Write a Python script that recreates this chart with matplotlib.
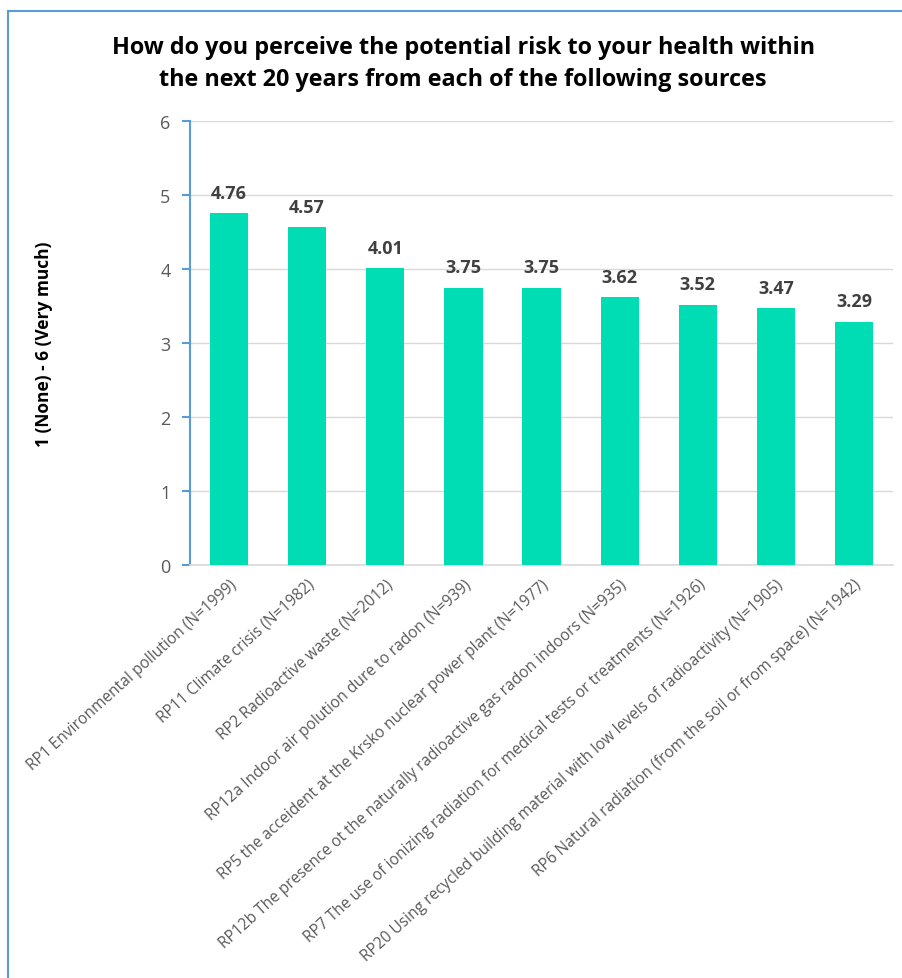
import matplotlib.pyplot as plt
from matplotlib.patches import Rectangle

categories = [
    "RP1 Environmental pollution (N=1999)",
    "RP11 Climate crisis (N=1982)",
    "RP2 Radioactive waste (N=2012)",
    "RP12a Indoor air polution dure to radon (N=939)",
    "RP5 the acceident at the Krsko nuclear power plant (N=1977)",
    "RP12b The presence ot the naturally radioactive gas radon indoors (N=935)",
    "RP7 The use of ionizing radiation for medical tests or treatments (N=1926)",
    "RP20 Using recycled building material with low levels of radioactivity (N=1905)",
    "RP6 Natural radiation (from the soil or from space) (N=1942)",
]
values = [4.76, 4.57, 4.01, 3.75, 3.75, 3.62, 3.52, 3.47, 3.29]
yticks = [0, 1, 2, 3, 4, 5, 6]

plt.rcParams['font.family'] = ['Open Sans', 'DejaVu Sans']

fig = plt.figure(figsize=(9.03, 9.79), dpi=100)
ax = fig.add_axes([0.2104, 0.4218, 0.7786, 0.4536])

x = range(len(values))
bars = ax.bar(x, values, width=0.49, color='#00DCB4', zorder=3)

for b, v in zip(bars, values):
    ax.annotate(f"{v:.2f}", (b.get_x() + b.get_width() / 2, v),
                xytext=(0, 8), textcoords='offset points',
                ha='center', va='bottom', fontsize=13, fontweight='bold',
                color='#404040')

ax.set_xlim(-0.5, len(values) - 0.5)
ax.set_ylim(0, 6)
ax.set_yticks(yticks)
ax.set_yticklabels([str(t) for t in yticks], fontsize=13, color='#595959')
ax.tick_params(axis='y', length=6, color='#5B9BD5', width=1.5, pad=8)
ax.set_xticks(list(x))
ax.set_xticklabels(categories, rotation=42, ha='right', rotation_mode='anchor',
                   fontsize=11.2, color='#595959')
ax.tick_params(axis='x', length=0, pad=8)

ax.grid(axis='y', color='#D9D9D9', linewidth=1, zorder=0)
for s in ['top', 'right']:
    ax.spines[s].set_visible(False)
ax.spines['left'].set_color('#5B9BD5')
ax.spines['left'].set_linewidth(1.5)
ax.spines['bottom'].set_color('#D9D9D9')
ax.spines['bottom'].set_linewidth(1.2)

ax.set_ylabel("1 (None) - 6 (Very much)", fontsize=12.5, fontweight='bold',
              color='black', labelpad=0)
ax.yaxis.set_label_coords(-0.195, 0.5)

fig.text(0.513, 0.935, "How do you perceive the potential risk to your health within\n"
         "the next 20 years from each of the following sources",
         ha='center', va='center', fontsize=16.8, fontweight='bold',
         linespacing=1.45)

# outer frame (left and top edges visible)
fig.patches.append(Rectangle((0.009, -0.1), 1.1, 1.088, transform=fig.transFigure,
                             fill=False, edgecolor='#5B9BD5', linewidth=1.5))

fig.savefig("out.png", dpi=100)
